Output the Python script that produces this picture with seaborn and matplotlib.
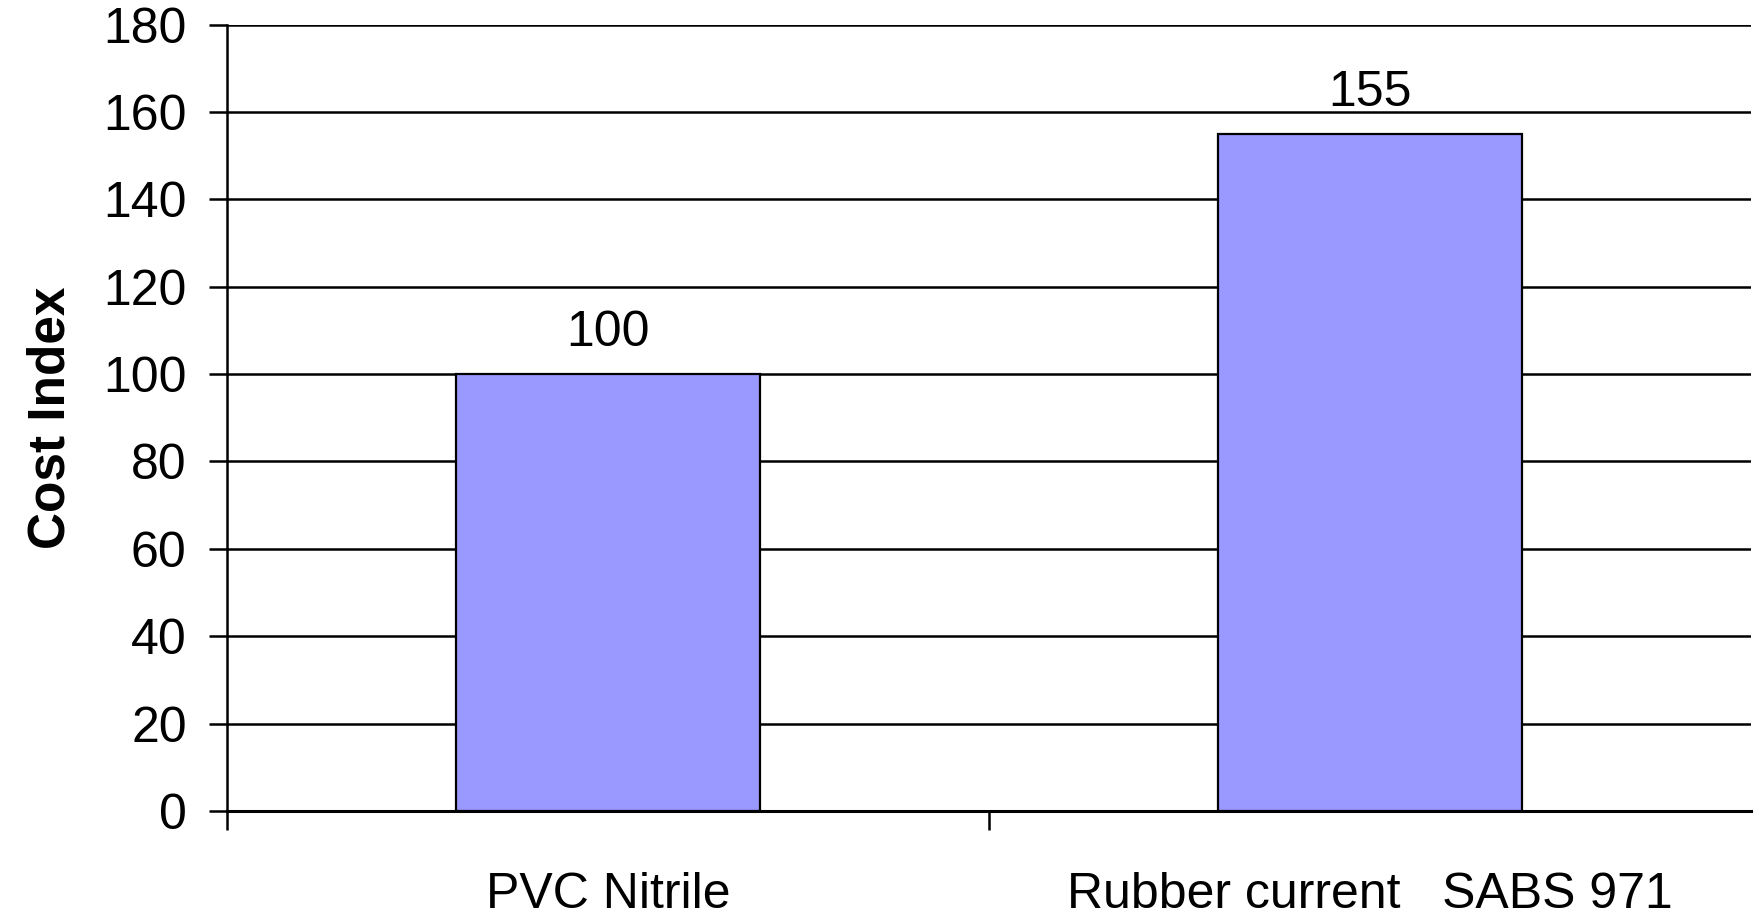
import matplotlib
matplotlib.use("Agg")
import matplotlib.pyplot as plt
import seaborn as sns
import numpy as np

categories = ["PVC Nitrile", "Rubber current   SABS 971"]
values = [100, 155]
y_ticks = [0, 20, 40, 60, 80, 100, 120, 140, 160, 180]
y_label = "Cost Index"

sns.set_theme(style="white")
plt.rcParams['font.family'] = ['Liberation Sans', 'DejaVu Sans']
plt.rcParams['text.color'] = 'black'
plt.rcParams['axes.labelcolor'] = 'black'
plt.rcParams['xtick.color'] = 'black'
plt.rcParams['ytick.color'] = 'black'

fig = plt.figure(figsize=(17.54, 9.17), dpi=100)
ax = fig.add_axes([0.1294, 0.1156, 0.9983 - 0.1294, 0.9732 - 0.1156])

sns.barplot(x=categories, y=values, color="#9999FF", saturation=1,
            edgecolor="black", linewidth=1.6, width=0.4, ax=ax, zorder=3)

ax.set_xlim(-0.5, 1.5)
ax.set_ylim(0, 180)
ax.set_yticks(y_ticks)
ax.set_yticklabels([str(t) for t in y_ticks])
ax.yaxis.grid(True, color="black", linewidth=1.8)
ax.set_axisbelow(True)

for s in ["top", "right"]:
    ax.spines[s].set_visible(False)
ax.spines["left"].set_color("black")
ax.spines["left"].set_linewidth(1.8)
ax.spines["bottom"].set_color("black")
ax.spines["bottom"].set_linewidth(2.2)

ax.tick_params(axis="y", which="major", direction="out", length=13, width=1.8,
               color="black", labelcolor="black", labelsize=36, pad=16, left=True)
ax.set_xticks(range(len(categories)))
ax.set_xticklabels(categories)
ax.tick_params(axis="x", which="major", length=0, labelsize=36, pad=44,
               labelcolor="black")
ax.set_xticks([-0.5, 0.5], minor=True)
ax.tick_params(axis="x", which="minor", direction="out", length=14, width=1.8,
               color="black", bottom=True)

ax.set_xlabel("")
ax.set_ylabel(y_label, fontsize=37, fontweight="bold", labelpad=20, color="black")

ax.bar_label(ax.containers[0], labels=[str(v) for v in values],
             fontsize=36, padding=13, color="black")

fig.savefig("out.png", dpi=100, facecolor="white")
